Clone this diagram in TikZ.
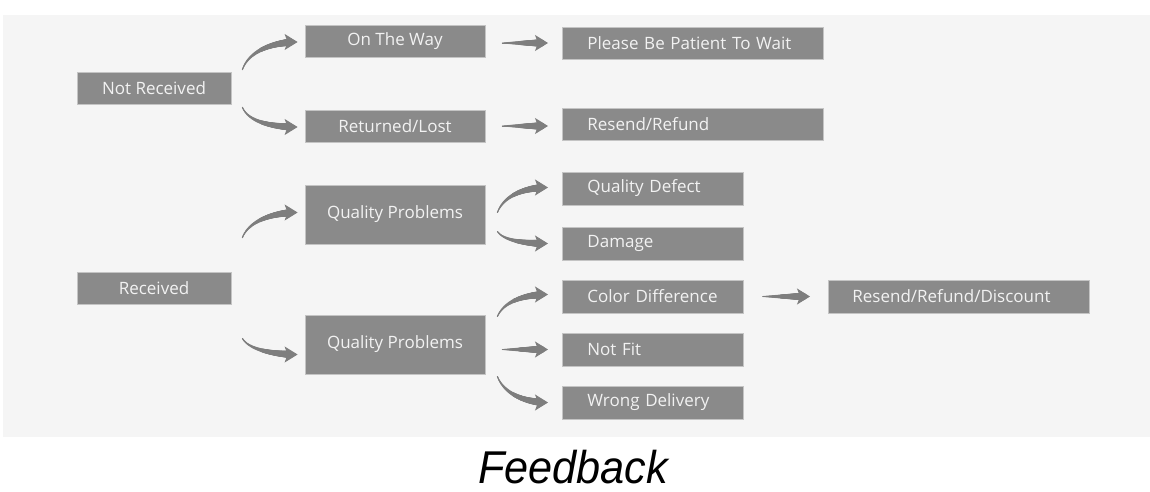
\documentclass[tikz,border=0pt]{standalone}
\usepackage{fontspec}
\setmainfont{Open Sans}
\newfontfamily\fbfont[FakeStretch=0.94]{Liberation Sans Italic}
\usetikzlibrary{arrows.meta,calc,decorations.markings}
\definecolor{panel}{HTML}{F5F5F5}
\definecolor{boxfill}{HTML}{8A8A8A}
\definecolor{boxline}{HTML}{C4C4C4}
\definecolor{boxtext}{HTML}{F2F2F2}
\definecolor{arrcol}{HTML}{7E7E7E}
\tikzset{
  box/.style={draw=boxline, line width=0.8pt, fill=boxfill, text=boxtext, font=\fontsize{17}{19}\selectfont, inner sep=0pt, minimum height=32pt},
  cbox/.style={box, minimum width=#1, align=center},
  lbox/.style={box, anchor=west, align=left, inner xsep=25pt, text width=#1},
  arr/.style={draw=arrcol, line width=1pt, line cap=round,
    -{Stealth[length=13pt,width=16pt,inset=3pt]},
    postaction={decorate, decoration={markings,
      mark=between positions 0 and 0.85 step 0.5pt with {
        \pgfmathsetmacro\rr{0.5+3.0*(\pgfkeysvalueof{/pgf/decoration/mark info/distance from start})/(\pgfdecoratedpathlength-11)}
        \fill[arrcol] (0,0) circle[radius=\rr pt];
      }}}},
}
\begin{document}
\begin{tikzpicture}[x=1pt,y=-1pt]
\useasboundingbox (0,0) rectangle (1150,491);
\fill[white] (0,0) rectangle (1150,491);
\fill[panel] (3,15) rectangle (1150,437);

% left column
\node[cbox=154pt] (nr) at (154,88) {Not Received};
\node[cbox=154pt] (r) at (154,288) {Received};
% middle column
\node[cbox=180pt] (otw) at (395,41) {On The Way};
\node[cbox=180pt] (rl) at (395,126) {Returned/Lost};
\node[cbox=180pt, minimum height=59pt] (qp1) at (395,214.5) {Quality Problems};
\node[cbox=180pt, minimum height=59pt] (qp2) at (395,344.5) {Quality Problems};
% right column
\node[lbox=211pt] (pbp) at (562,43) {Please Be Patient To Wait};
\node[lbox=211pt] (rr) at (562,124) {Resend/Refund};
\node[lbox=131pt, minimum height=33pt] (qd) at (562,188.5) {Quality Defect};
\node[lbox=131pt, minimum height=33pt] (dm) at (562,243.5) {Damage};
\node[lbox=131pt, minimum height=33pt] (cd) at (562,296.5) {Color Difference};
\node[lbox=131pt, minimum height=33pt] (nf) at (562,349.5) {Not Fit};
\node[lbox=131pt, minimum height=33pt] (wd) at (562,402.5) {Wrong Delivery};
\node[lbox=211pt, minimum height=33pt, inner xsep=24pt, text width=213pt] (rrd) at (828,296.5) {Resend/Refund/Discount};

% connectors
\draw[arr] ($(nr.north east)+(11,-2)$) .. controls +(7,-20) and +(-22,0) .. ($(otw.west)+(-7,1)$);
\draw[arr] ($(nr.south east)+(11,3)$) .. controls +(7,16) and +(-22,0) .. ($(rl.west)+(-7,1)$);
\draw[arr] ($(otw.east)+(17,2)$) -- ($(pbp.west)+(-14,0)$);
\draw[arr] ($(rl.east)+(17,0)$) -- ($(rr.west)+(-14,2)$);
\draw[arr] ($(r.north east)+(11,-34)$) .. controls +(7,-18) and +(-22,0) .. ($(qp1.west)+(-7,-2)$);
\draw[arr] ($(r.south east)+(11,34)$) .. controls +(7,12) and +(-22,0) .. ($(qp2.west)+(-7,10)$);
\draw[arr] ($(qp1.east)+(12,-2)$) .. controls +(7,-18) and +(-22,0) .. ($(qd.west)+(-14,-1)$);
\draw[arr] ($(qp1.east)+(12,17)$) .. controls +(7,10) and +(-20,0) .. ($(dm.west)+(-14,0)$);
\draw[arr] ($(qp2.east)+(12,-28)$) .. controls +(7,-16) and +(-22,0) .. ($(cd.west)+(-14,-2)$);
\draw[arr] ($(qp2.east)+(17,5)$) -- ($(nf.west)+(-14,0)$);
\draw[arr] ($(qp2.east)+(12,32)$) .. controls +(7,18) and +(-22,0) .. ($(wd.west)+(-14,0)$);
\draw[arr] ($(cd.east)+(19,0)$) -- ($(rrd.west)+(-18,0)$);

% caption
\node[font=\fbfont\fontsize{46}{50}\selectfont, text=black, anchor=base] (fb) at (573,483) {Feedback};
\end{tikzpicture}
\end{document}
